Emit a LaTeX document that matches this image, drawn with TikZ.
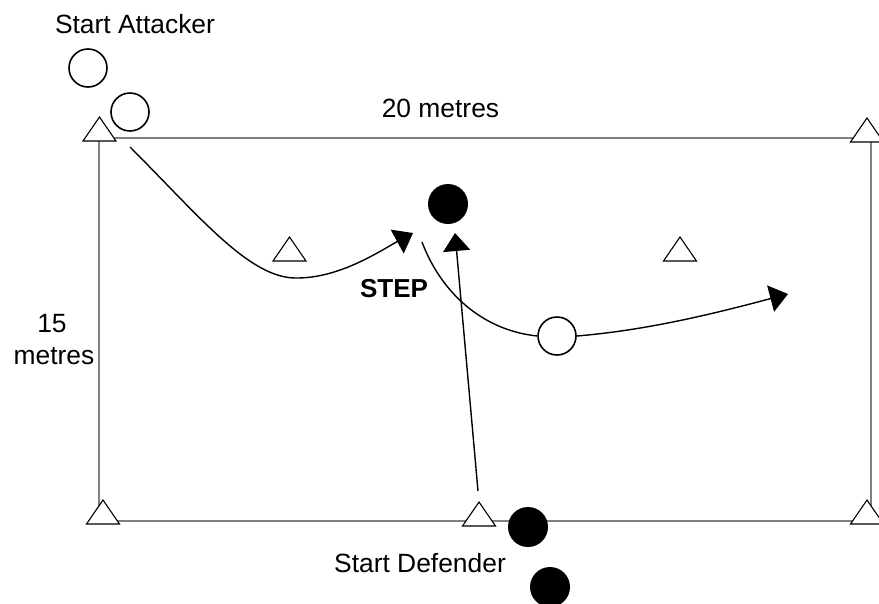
\documentclass[tikz,border=0pt]{standalone}
\usepackage{fontspec}
\setmainfont{Liberation Sans}
\usetikzlibrary{arrows.meta}
\definecolor{fieldgray}{RGB}{128,128,128}
\tikzset{
  field/.style={draw=fieldgray, line width=1.8pt},
  conestyle/.style={draw=black, fill=white, line width=1.1pt, line join=miter},
  cone/.pic={\draw[conestyle] (-16.5,0) -- (16.5,0) -- (0,-24) -- cycle;},
  att/.style={circle, draw=black, fill=white, line width=1.6pt, minimum size=38pt, inner sep=0pt},
  defp/.style={circle, fill=black, minimum size=40pt, inner sep=0pt},
  run/.style={draw=black, line width=1.4pt},
  runarrow/.style={run, -{Triangle[length=18pt,width=27pt]}},
  lab/.style={font=\fontsize{26.4}{30}\selectfont, anchor=base, inner sep=0pt},
}
\begin{document}
\begin{tikzpicture}[x=1pt,y=-1pt]
\useasboundingbox (0,0) rectangle (879,603);
% field
\draw[field] (99,138) rectangle (871,521);
% cones
\pic at (99.5,141) {cone};
\pic at (867,142) {cone};
\pic at (103,524) {cone};
\pic at (479,526) {cone};
\pic at (867,524) {cone};
\pic at (289.5,261) {cone};
\pic at (680,261) {cone};
% players
\node[att] (a1) at (88,68) {};
\node[att] (a2) at (130,112) {};
\node[att] (m) at (557,336) {};
\node[defp] (d0) at (448,204) {};
\node[defp] (d1) at (528,527) {};
\node[defp] (d2) at (550,587) {};
% labels
\node[lab] (tA) at (135,33) {Start Attacker};
\node[lab] (t20) at (440.5,117) {20 metres};
\node[lab] (t15) at (52,332) {15};
\node[lab] (tm) at (54,364) {metres};
\node[lab, font=\fontsize{26}{30}\selectfont\bfseries] (tS) at (394,297) {STEP};
\node[lab] (tD) at (420,572) {Start Defender};
% runs
\coordinate (c1s) at (130,147);
\coordinate (c1m) at (297,278);
\coordinate (c1e) at (413,233);
\draw[runarrow] (c1s) .. controls (200,217) and (250,279) .. (c1m) .. controls (340,278) and (380,251) .. (c1e);
\coordinate (d1s) at (478,491);
\coordinate (d1e) at (455,233);
\draw[runarrow] (d1s) -- (d1e);
\coordinate (s1) at (422,242);
\draw[run] (s1) .. controls (440,290) and (480,330) .. (m.west);
\coordinate (c3e) at (788,294);
\draw[runarrow] (m.east) .. controls (650,330) and (720,312) .. (c3e);
\end{tikzpicture}
\end{document}
